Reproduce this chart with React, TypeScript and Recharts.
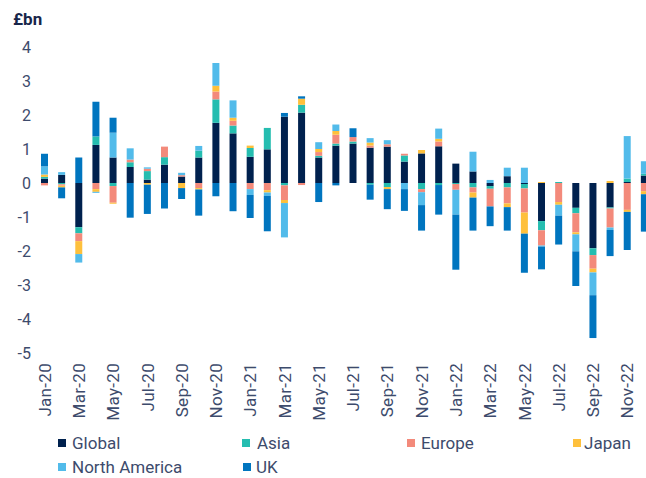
import React from "react";
import { Bar, BarChart, XAxis, YAxis } from "recharts";

const months = [
  "Jan-20", "Feb-20", "Mar-20", "Apr-20", "May-20", "Jun-20", "Jul-20", "Aug-20", "Sep-20", "Oct-20", "Nov-20", "Dec-20",
  "Jan-21", "Feb-21", "Mar-21", "Apr-21", "May-21", "Jun-21", "Jul-21", "Aug-21", "Sep-21", "Oct-21", "Nov-21", "Dec-21",
  "Jan-22", "Feb-22", "Mar-22", "Apr-22", "May-22", "Jun-22", "Jul-22", "Aug-22", "Sep-22", "Oct-22", "Nov-22", "Dec-22",
];

const globalFlows = [
  0.13, 0.24, -1.3, 1.12, 0.75, 0.47, 0.1, 0.54, 0.19, 0.75, 1.77, 1.46,
  0.77, 0.99, 1.95, 2.07, 0.75, 1.1, 1.16, 1.04, 1.07, 0.63, 0.87, 1.08,
  0.57, 0.34, -0.09, 0.2, -0.03, -1.12, 0, -0.73, -1.92, -0.72, 0.03, 0.22,
];
const asiaFlows = [
  0.05, -0.04, -0.18, 0.25, -0.09, 0.14, 0.25, 0.22, 0, 0.2, 0.69, 0.23,
  0.26, 0.63, -0.07, 0.23, 0.05, 0.06, 0.06, -0.05, -0.12, 0.18, -0.18, -0.06,
  -0.03, -0.13, -0.08, -0.13, -0.13, -0.27, 0.03, -0.16, -0.2, -0.03, 0.1, 0.05,
];
const europeFlows = [
  -0.07, -0.04, -0.23, -0.18, -0.49, 0.08, 0.07, 0.31, 0.04, -0.15, 0.23, 0.14,
  -0.18, -0.21, -0.43, -0.06, 0.11, 0.26, 0.13, 0.06, 0.07, 0.05, -0.09, 0.14,
  -0.17, -0.15, -0.52, -0.47, -0.71, -0.45, -0.56, -0.56, -0.4, -0.56, -0.79, -0.24,
];
const japanFlows = [
  0.07, -0.05, -0.38, -0.08, -0.03, 0, -0.05, 0, -0.15, -0.04, 0.17, 0.09,
  0.07, -0.07, -0.09, 0.18, 0.09, 0.11, 0, 0.09, -0.06, 0, 0.1, 0.08,
  0, -0.15, 0, -0.11, -0.62, 0.03, -0.08, -0.06, -0.11, 0.06, -0.06, -0.09,
];
const northAmericaFlows = [
  0.24, 0.08, -0.25, -0.03, 0.73, 0.33, 0.04, 0, 0.07, 0.14, 0.67, 0.51,
  -0.17, -0.1, -1.01, 0, 0.2, 0.19, 0, 0.13, 0.12, -0.18, -0.38, 0.3,
  -0.73, 0.58, 0.09, 0.25, 0.45, -0.03, -0.32, -0.5, -0.67, -0.07, 1.25, 0.37,
];
const ukFlows = [
  0.37, -0.32, 0.75, 1.02, 0.44, -1.02, -0.86, -0.75, -0.32, -0.77, -0.39, -0.83,
  -0.68, -1.04, 0.11, 0.07, -0.56, -0.07, 0.26, -0.44, -0.59, -0.64, -0.75, -0.87,
  -1.62, -0.97, -0.58, -0.69, -1.15, -0.67, -0.85, -1.02, -1.26, -0.77, -1.12, -1.1,
];

const yTicks = [-5, -4, -3, -2, -1, 0, 1, 2, 3, 4];

const SERIES = [
  { key: "global", label: "Global", color: "#00214e", values: globalFlows },
  { key: "asia", label: "Asia", color: "#25bdb0", values: asiaFlows },
  { key: "europe", label: "Europe", color: "#f38a7b", values: europeFlows },
  { key: "japan", label: "Japan", color: "#fec03c", values: japanFlows },
  { key: "northAmerica", label: "North America", color: "#52bbea", values: northAmericaFlows },
  { key: "uk", label: "UK", color: "#0075bf", values: ukFlows },
];

const TEXT = "#3d4b6c";
const FONT = "Roboto, sans-serif";

// legend slots as laid out in the original (left of swatch, row)
const LEGEND_POS: Record<string, { left: number; top: number; gap: number }> = {
  global: { left: 58, top: 443, gap: 6 },
  asia: { left: 242, top: 443, gap: 7 },
  europe: { left: 407, top: 443, gap: 6 },
  japan: { left: 573, top: 443, gap: 3 },
  northAmerica: { left: 58, top: 467, gap: 6 },
  uk: { left: 243, top: 467, gap: 5 },
};

const data = months.map((m, i) => {
  const row: Record<string, string | number> = { month: m };
  SERIES.forEach((s) => {
    row[s.key] = s.values[i];
  });
  return row;
});

function MonthTick({ x, y, payload }: any) {
  return (
    <text
      x={x}
      y={y}
      transform={`rotate(-90, ${x}, ${y})`}
      textAnchor="end"
      dy="0.36em"
      fill={TEXT}
      fontSize={17}
      letterSpacing={0.3}
      fontFamily={FONT}
    >
      {payload.value}
    </text>
  );
}

export default function App() {
  return (
    <div
      style={{
        position: "absolute",
        left: 0,
        top: 0,
        width: 646,
        height: 478,
        overflow: "hidden",
        background: "#fff",
        fontFamily: FONT,
      }}
    >
      <div
        style={{
          position: "absolute",
          left: 13,
          top: 9,
          fontSize: 17,
          lineHeight: "20px",
          fontWeight: 700,
          color: "#17264a",
        }}
      >
        £bn
      </div>

      <BarChart
        width={670}
        height={423}
        data={data}
        stackOffset="sign"
        margin={{ top: 47, right: 17, left: 0, bottom: 0 }}
      >
        <XAxis
          dataKey="month"
          interval={1}
          axisLine={false}
          tickLine={false}
          tickSize={0}
          tickMargin={10}
          height={70}
          tick={<MonthTick />}
        />
        <YAxis
          domain={[-5, 4]}
          ticks={yTicks}
          axisLine={false}
          tickLine={false}
          tickSize={0}
          tickMargin={5}
          width={36}
          tick={{ fill: TEXT, fontSize: 16, fontFamily: FONT }}
        />
        {SERIES.map((s) => (
          <Bar
            key={s.key}
            dataKey={s.key}
            name={s.label}
            stackId="flows"
            fill={s.color}
            barSize={7}
            isAnimationActive={false}
          />
        ))}
      </BarChart>

      {SERIES.map((s) => {
        const p = LEGEND_POS[s.key];
        return (
          <div
            key={s.key}
            style={{
              position: "absolute",
              left: p.left,
              top: p.top - 11,
              height: 22,
              display: "flex",
              alignItems: "center",
              fontSize: 17,
              color: TEXT,
              whiteSpace: "nowrap",
            }}
          >
            <span
              style={{
                display: "inline-block",
                width: 8,
                height: 8,
                background: s.color,
                marginRight: p.gap,
              }}
            />
            {s.label}
          </div>
        );
      })}
    </div>
  );
}
